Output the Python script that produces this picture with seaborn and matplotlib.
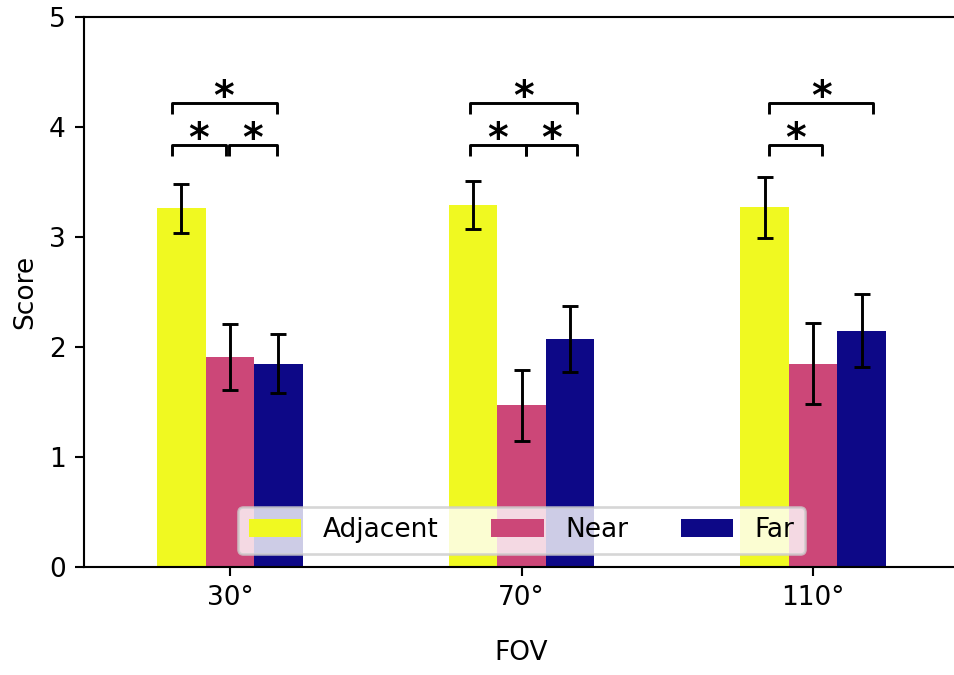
import numpy as np
import pandas as pd
import seaborn as sns
import matplotlib.pyplot as plt

# mean scores and error (half-length of bars) per FOV
fov_labels = ['30°', '70°', '110°']
conditions = ['Adjacent', 'Near', 'Far']
adjacent_mean = [3.26, 3.29, 3.27]
near_mean = [1.91, 1.47, 1.85]
far_mean = [1.85, 2.07, 2.15]
adjacent_err = [0.22, 0.22, 0.28]
near_err = [0.30, 0.32, 0.37]
far_err = [0.27, 0.30, 0.33]

# significance brackets: (fov index, left offset, right offset, row)
sig_pairs = [(0, -0.20, 0.16, 'high'), (0, -0.20, -0.012, 'low'), (0, -0.004, 0.16, 'low'),
             (1, -0.175, 0.19, 'high'), (1, -0.175, 0.014, 'low'), (1, 0.014, 0.19, 'low'),
             (2, -0.15, 0.205, 'high'), (2, -0.15, 0.03, 'low')]
row_y = {'high': 4.22, 'low': 3.84}

colors = ['#f0f921', '#cc4778', '#0d0887']

df = pd.DataFrame({
    'FOV': fov_labels * 3,
    'Condition': np.repeat(conditions, 3),
    'Score': adjacent_mean + near_mean + far_mean,
})
errs = [adjacent_err, near_err, far_err]

dpi = 190
fig = plt.figure(figsize=(954 / dpi, 675 / dpi), dpi=dpi)
# axes runs slightly past the right edge, like the cropped original
ax = fig.add_axes([84 / 954, 108 / 675, 875 / 954, 550 / 675])

sns.barplot(data=df, x='FOV', y='Score', hue='Condition', palette=colors,
            width=0.5, errorbar=None, saturation=1, linewidth=0, ax=ax)

# error bars on the bar centres
for cont, err in zip(ax.containers, errs):
    xs = [b.get_x() + b.get_width() / 2 for b in cont]
    hs = [b.get_height() for b in cont]
    ax.errorbar(xs, hs, yerr=err, fmt='none', ecolor='k', elinewidth=1.1,
                capsize=3, capthick=1.1)

# significance markers
tick = 0.105
for g, x1, x2, row in sig_pairs:
    y = row_y[row]
    ax.plot([g + x1, g + x1, g + x2, g + x2], [y - tick, y, y, y - tick],
            color='k', lw=1.1, solid_capstyle='butt')
    ax.text(g + (x1 + x2) / 2, y + 0.04, '*', ha='center', va='center',
            fontsize=15, fontweight='heavy')

ax.set_ylim(0, 5)
ax.set_xlim(-0.5, 2.5)
ax.set_xlabel('FOV', labelpad=11)
ax.set_ylabel('Score')

handles, labels = ax.get_legend_handles_labels()
ax.legend(handles[:3], labels[:3], loc='lower center', ncol=3, title=None)

fig.savefig('out.png', dpi=dpi)
